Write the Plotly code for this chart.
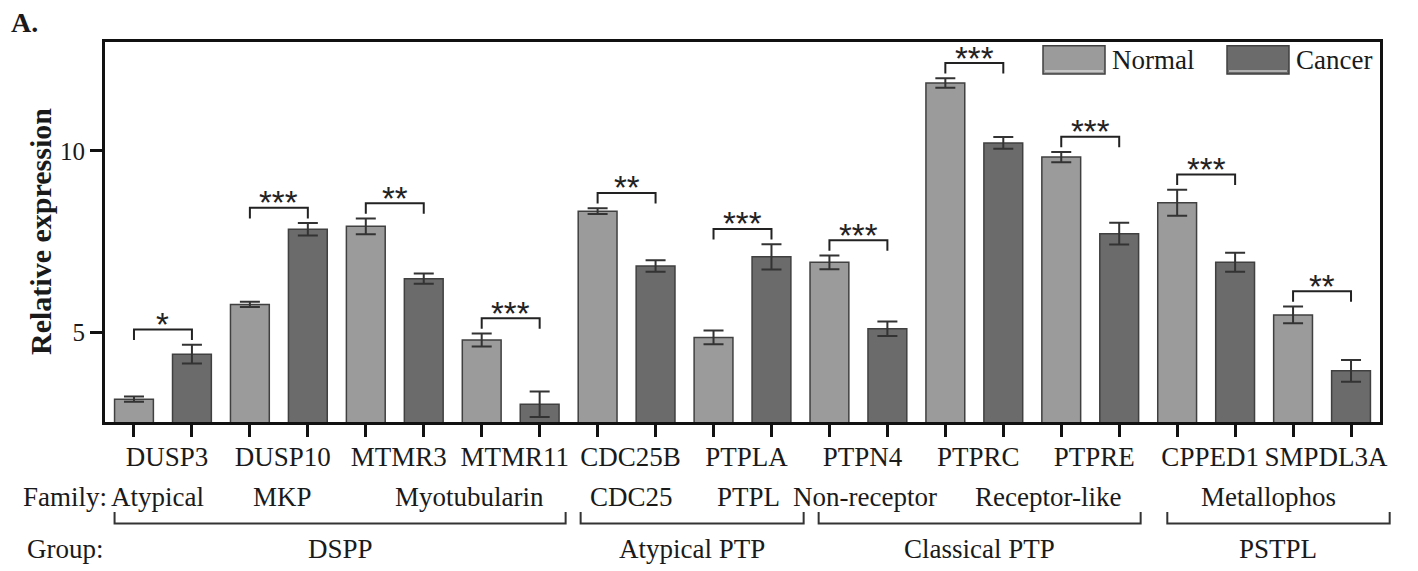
import plotly.graph_objects as go

# ---------------- data ----------------
genes = ["DUSP3", "DUSP10", "MTMR3", "MTMR11", "CDC25B", "PTPLA",
         "PTPN4", "PTPRC", "PTPRE", "CPPED1", "SMPDL3A"]
normal = [3.16, 5.77, 7.92, 4.79, 8.34, 4.86, 6.93, 11.87, 9.83, 8.57, 5.48]
normal_err = [0.07, 0.07, 0.22, 0.18, 0.08, 0.19, 0.19, 0.13, 0.14, 0.36, 0.23]
cancer = [4.40, 7.84, 6.48, 3.02, 6.83, 7.08, 5.10, 10.22, 7.72, 6.93, 3.94]
cancer_err = [0.26, 0.17, 0.14, 0.35, 0.16, 0.35, 0.20, 0.16, 0.30, 0.26, 0.30]
signif = ["*", "***", "**", "***", "**", "***", "***", "***", "***", "***", "**"]

families = ["Atypical", "MKP", "Myotubularin", "CDC25", "PTPL",
            "Non-receptor", "Receptor-like", "Metallophos"]
family_genes = [(0, 0), (1, 1), (2, 3), (4, 4), (5, 5), (6, 6), (7, 8), (9, 10)]
groups = ["DSPP", "Atypical PTP", "Classical PTP", "PSTPL"]
group_genes = [(0, 3), (4, 5), (6, 8), (9, 10)]

y_ticks = [5, 10]

# ---------------- style ----------------
SERIF = "Liberation Serif, Times New Roman, serif"
C_NORMAL = "#9b9b9b"
C_CANCER = "#6b6b6b"
C_EDGE = "#404040"
C_AX = "#111111"
TXT = "#1a1a1a"
XMIN, XMAX = -0.5, 2 * len(genes) - 0.5
YMIN, YMAX = 2.53, 13.0
family_xshift = [-5, 4, 17, 5, 6, 7, 16, 4]
group_pad = [(-0.335, 0.448), (-0.293, 0.555), (-0.186, 0.37), (-0.17, 0.667)]
PAGE_OFF = 8  # default body margin of the html page

def xd(v):
    return (v - XMIN) / (XMAX - XMIN)

x_norm = [2 * i for i in range(len(genes))]
x_canc = [2 * i + 1 for i in range(len(genes))]
x_pair = [2 * i + 0.5 for i in range(len(genes))]

fig = go.Figure()
fig.add_trace(go.Bar(
    x=x_norm, y=normal, width=0.67, name="Normal",
    marker=dict(color=C_NORMAL, line=dict(color=C_EDGE, width=1.5)),
    error_y=dict(type="data", array=normal_err, visible=True,
                 color="#333333", thickness=2, width=10),
    showlegend=False))
fig.add_trace(go.Bar(
    x=x_canc, y=cancer, width=0.67, name="Cancer",
    marker=dict(color=C_CANCER, line=dict(color=C_EDGE, width=1.5)),
    error_y=dict(type="data", array=cancer_err, visible=True,
                 color="#333333", thickness=2, width=10),
    showlegend=False))
# carrier trace for the gene-label axis
fig.add_trace(go.Scatter(x=x_pair, y=[None] * len(genes), xaxis="x2",
                         mode="markers", showlegend=False, hoverinfo="skip"))

shapes = []
annotations = []

# significance brackets
for i, s in enumerate(signif):
    top = max(normal[i] + normal_err[i], cancer[i] + cancer_err[i])
    yb = top + 0.42
    leg = 0.29
    x0, x1 = x_norm[i], x_canc[i]
    shapes.append(dict(type="path", xref="x", yref="y",
                       path=f"M {x0},{yb-leg} L {x0},{yb} L {x1},{yb} L {x1},{yb-leg}",
                       line=dict(color="#222222", width=2)))
    annotations.append(dict(x=(x0 + x1) / 2, y=yb, xref="x", yref="y",
                            text=s, showarrow=False, yanchor="middle",
                            yshift=5,
                            font=dict(family="Liberation Sans, Arial", size=33,
                                      color="#222222")))

# screen-pixel helpers (plot area: x 105..1380, y 42..422)
def px_x(p):
    return (p - 105) / 1275.0

def px_y(p):
    return (422 - p) / 380.0

for (xa, xb, lab, col) in [(1043, 1105, "Normal", C_NORMAL),
                           (1227, 1289, "Cancer", C_CANCER)]:
    shapes.append(dict(type="rect", xref="paper", yref="paper",
                       x0=px_x(xa), x1=px_x(xb), y0=px_y(74), y1=px_y(45.7),
                       fillcolor=col, line=dict(color=C_EDGE, width=1.5)))
    shapes.append(dict(type="line", xref="paper", yref="paper",
                       x0=px_x(xa + 2), x1=px_x(xb - 2), y0=px_y(71), y1=px_y(71),
                       line=dict(color="#f4f4f4", width=1.2)))
    annotations.append(dict(x=px_x(xb + 5), y=px_y(60), xref="paper", yref="paper",
                            text=lab, showarrow=False, xanchor="left",
                            yanchor="middle",
                            font=dict(family=SERIF, size=27, color=TXT)))

# family row
annotations.append(dict(x=px_x(21), y=px_y(497), xref="paper", yref="paper",
                        text="Family:", showarrow=False, xanchor="left",
                        yanchor="middle", font=dict(family=SERIF, size=27, color=TXT)))
for k, (name, (g0, g1)) in enumerate(zip(families, family_genes)):
    c = (2 * g0 + 2 * g1 + 1) / 2
    annotations.append(dict(x=xd(c), y=px_y(497), xref="x domain", yref="paper",
                            text=name, showarrow=False, xanchor="center",
                            yanchor="middle", xshift=family_xshift[k],
                            font=dict(family=SERIF, size=27, color=TXT)))

# group row with brackets
annotations.append(dict(x=px_x(25), y=px_y(549), xref="paper", yref="paper",
                        text="Group:", showarrow=False, xanchor="left",
                        yanchor="middle", font=dict(family=SERIF, size=27, color=TXT)))
for k, (name, (g0, g1)) in enumerate(zip(groups, group_genes)):
    a = 2 * g0 + group_pad[k][0]
    b = 2 * g1 + 1 + group_pad[k][1]
    ya, yb2 = px_y(512), px_y(523.5)
    shapes.append(dict(type="path", xref="x domain", yref="paper",
                       path=f"M {xd(a)},{ya} L {xd(a)},{yb2} L {xd(b)},{yb2} L {xd(b)},{ya}",
                       line=dict(color="#333333", width=2)))
    annotations.append(dict(x=xd((a + b) / 2), y=px_y(549), xref="x domain",
                            yref="paper", text=name, showarrow=False,
                            xanchor="center", yanchor="middle",
                            font=dict(family=SERIF, size=27, color=TXT)))

# y-axis title and panel letter
annotations.append(dict(x=px_x(40), y=0.5, xref="paper", yref="paper",
                        text="<b>Relative expression</b>", textangle=-90,
                        showarrow=False, xanchor="center", yanchor="middle",
                        font=dict(family=SERIF, size=30, color=TXT)))
annotations.append(dict(x=px_x(9), y=px_y(22.5), xref="paper", yref="paper",
                        text="<b>A.</b>", showarrow=False, xanchor="left",
                        yanchor="middle", font=dict(family=SERIF, size=28, color=TXT)))

fig.update_layout(
    width=1418 - PAGE_OFF, height=571 - PAGE_OFF,
    margin=dict(l=105 - PAGE_OFF, r=38, t=42 - PAGE_OFF, b=149, autoexpand=False),
    paper_bgcolor="white", plot_bgcolor="white",
    barmode="overlay",
    shapes=shapes, annotations=annotations,
    xaxis=dict(range=[XMIN, XMAX], tickmode="array",
               tickvals=x_norm + x_canc, showticklabels=False,
               ticks="outside", ticklen=12, tickwidth=3, tickcolor=C_AX,
               showgrid=False, zeroline=False, automargin=False,
               showline=True, mirror=True, linewidth=3, linecolor=C_AX),
    xaxis2=dict(range=[XMIN, XMAX], overlaying="x", anchor="y", side="bottom",
                tickmode="array", tickvals=x_pair, ticktext=genes,
                ticks="", tickangle=0, showgrid=False, zeroline=False,
                showline=False, automargin=False,
                tickfont=dict(family=SERIF, size=27, color=TXT),
                ticklabelstandoff=16, ticklabelshift=4),
    yaxis=dict(range=[YMIN, YMAX], tickmode="array", tickvals=y_ticks,
               ticks="outside", ticklen=12, tickwidth=3, tickcolor=C_AX,
               showgrid=False, zeroline=False, showline=True, mirror=True,
               linewidth=3, linecolor=C_AX, automargin=False,
               tickfont=dict(family=SERIF, size=25, color=TXT)),
)

fig.write_html("out.html")
